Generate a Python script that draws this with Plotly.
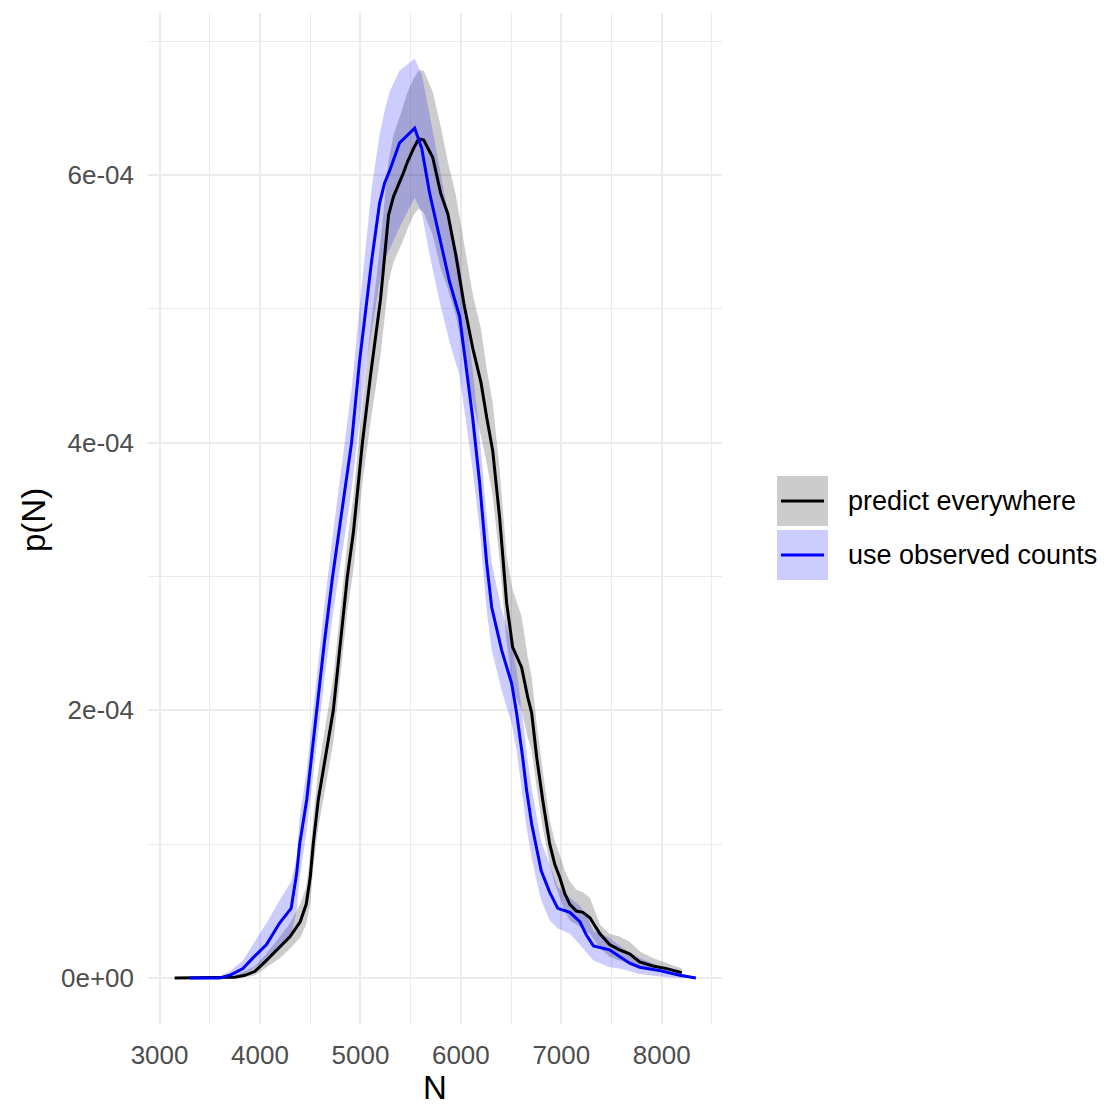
import plotly.graph_objects as go

# ---------------- data (density in units of 1e-4) ----------------
series_names = ["predict everywhere", "use observed counts"]

pred_N = [3150, 3300, 3600, 3750, 3850, 3950, 4050, 4200, 4300, 4400, 4460, 4500, 4530, 4580,
          4650, 4730, 4800, 4870, 4930, 5020, 5100, 5200, 5280, 5330, 5420, 5470, 5530, 5580,
          5630, 5720, 5800, 5870, 5950, 6030, 6120, 6200, 6257, 6317, 6386, 6456, 6516, 6605,
          6665, 6705, 6755, 6815, 6885, 6935, 6985, 7035, 7085, 7150, 7215, 7285, 7385, 7480,
          7580, 7680, 7780, 7910, 8050, 8200]
pred_mid = [0, 0, 0, 0.005, 0.02, 0.05, 0.12, 0.23, 0.31, 0.42, 0.55, 0.75, 1.0, 1.33,
            1.65, 2.0, 2.5, 3.0, 3.33, 4.0, 4.5, 5.07, 5.7, 5.84, 6.0, 6.1, 6.2, 6.27,
            6.26, 6.13, 5.86, 5.71, 5.4, 5.04, 4.7, 4.45, 4.19, 3.94, 3.44, 2.8, 2.47, 2.32,
            2.1, 1.98, 1.65, 1.33, 1.0, 0.85, 0.75, 0.63, 0.55, 0.50, 0.49, 0.45, 0.33, 0.25,
            0.21, 0.18, 0.12, 0.09, 0.07, 0.04]
pred_lo = [0, 0, 0, 0, 0.005, 0.02, 0.07, 0.15, 0.22, 0.30, 0.40, 0.55, 0.82, 1.12,
           1.42, 1.76, 2.25, 2.74, 3.05, 3.7, 4.15, 4.65, 5.2, 5.35, 5.5, 5.6, 5.7, 5.75,
           5.72, 5.55, 5.3, 5.15, 4.95, 4.65, 4.3, 4.05, 3.85, 3.6, 3.12, 2.5, 2.15, 2.0,
           1.8, 1.7, 1.42, 1.12, 0.85, 0.70, 0.6, 0.5, 0.43, 0.4, 0.37, 0.33, 0.22, 0.16,
           0.13, 0.11, 0.07, 0.05, 0.04, 0.02]
pred_hi = [0, 0, 0.005, 0.02, 0.05, 0.09, 0.17, 0.31, 0.41, 0.55, 0.68, 0.92, 1.2, 1.55,
           1.88, 2.25, 2.75, 3.26, 3.6, 4.3, 4.85, 5.5, 6.1, 6.3, 6.5, 6.62, 6.72, 6.78,
           6.78, 6.62, 6.36, 6.1, 5.85, 5.5, 5.1, 4.85, 4.55, 4.3, 3.8, 3.15, 2.9, 2.7,
           2.4, 2.25, 1.9, 1.55, 1.18, 1.02, 0.92, 0.8, 0.72, 0.66, 0.64, 0.6, 0.40, 0.33,
           0.31, 0.27, 0.2, 0.15, 0.11, 0.07]

obs_N = [3300, 3600, 3700, 3830, 3930, 4065, 4195, 4310, 4365, 4395, 4465, 4564, 4640, 4723,
         4820, 4912, 4990, 5062, 5112, 5191, 5241, 5290, 5390, 5540, 5610, 5690, 5789, 5888,
         5988, 6117, 6187, 6257, 6307, 6406, 6506, 6555, 6615, 6655, 6705, 6755, 6800, 6885,
         6965, 7085, 7185, 7250, 7320, 7480, 7580, 7680, 7780, 7980, 8180, 8340]
obs_mid = [0, 0, 0.02, 0.07, 0.15, 0.25, 0.41, 0.52, 0.78, 1.0, 1.33, 2.0, 2.5, 3.0,
           3.5, 4.0, 4.6, 5.07, 5.36, 5.79, 5.94, 6.03, 6.24, 6.35, 6.2, 5.86, 5.54, 5.2,
           4.94, 4.19, 3.70, 3.1, 2.77, 2.45, 2.2, 1.98, 1.65, 1.4, 1.15, 0.96, 0.80, 0.64,
           0.52, 0.49, 0.42, 0.32, 0.24, 0.21, 0.16, 0.11, 0.08, 0.055, 0.02, 0.0]
obs_lo = [0, 0, 0, 0.02, 0.07, 0.13, 0.25, 0.32, 0.5, 0.75, 1.1, 1.75, 2.22, 2.7,
          3.18, 3.65, 4.15, 4.6, 4.85, 5.2, 5.36, 5.45, 5.61, 5.83, 5.72, 5.4, 5.05, 4.75,
          4.5, 3.8, 3.35, 2.75, 2.45, 2.15, 1.9, 1.7, 1.35, 1.12, 0.9, 0.72, 0.58, 0.43,
          0.37, 0.33, 0.25, 0.19, 0.13, 0.08, 0.07, 0.05, 0.03, 0.01, 0.0, 0.0]
obs_hi = [0, 0.01, 0.05, 0.13, 0.25, 0.41, 0.58, 0.72, 0.9, 1.2, 1.55, 2.25, 2.78, 3.3,
          3.85, 4.4, 5.0, 5.55, 5.9, 6.3, 6.48, 6.62, 6.78, 6.87, 6.75, 6.45, 6.05, 5.65,
          5.35, 4.55, 4.05, 3.45, 3.1, 2.75, 2.5, 2.3, 1.95, 1.68, 1.42, 1.2, 1.02, 0.85,
          0.68, 0.6, 0.54, 0.47, 0.35, 0.3, 0.24, 0.19, 0.15, 0.09, 0.04, 0.005]

x_ticks = [3000, 4000, 5000, 6000, 7000, 8000]
x_tick_labels = ["3000", "4000", "5000", "6000", "7000", "8000"]
x_minor = [3500, 4500, 5500, 6500, 7500, 8500]
y_ticks = [0, 2e-4, 4e-4, 6e-4]
y_tick_labels = ["0e+00", "2e-04", "4e-04", "6e-04"]
y_minor = [1e-4, 3e-4, 5e-4, 7e-4]

SCALE = 1e-4
line_colors = ["#000000", "#0000FF"]
fill_colors = ["rgba(0,0,0,0.2)", "rgba(0,0,255,0.2)"]
FONT = "Liberation Sans, Arial, Helvetica, sans-serif"

groups = [
    (pred_N, pred_mid, pred_lo, pred_hi),
    (obs_N, obs_mid, obs_lo, obs_hi),
]

fig = go.Figure()
# ribbons
for (xs, mid, lo, hi), fc in zip(groups, fill_colors):
    fig.add_trace(go.Scatter(
        x=list(xs) + list(xs)[::-1],
        y=[v * SCALE for v in hi] + [v * SCALE for v in lo][::-1],
        fill="toself", fillcolor=fc, mode="lines", line=dict(width=0),
        hoverinfo="skip", showlegend=False))
# lines
for (xs, mid, lo, hi), lc, nm in zip(groups, line_colors, series_names):
    fig.add_trace(go.Scatter(
        x=xs, y=[v * SCALE for v in mid], mode="lines",
        line=dict(color=lc, width=3), name=nm, showlegend=False))

L, R, T, B = 148, 382, 13, 83
W, H = 1104, 1107
pw, ph = W - L - R, H - T - B

def px2paper_x(px):
    return (px - L) / pw

def py2paper_y(py):
    return (H - B - py) / ph

# manual ggplot-style legend
key_rows = [(476, 526), (530, 580)]
for (y0, y1), lc, fc, nm in zip(key_rows, line_colors, fill_colors, series_names):
    fig.add_shape(type="rect", xref="paper", yref="paper",
                  x0=px2paper_x(777), x1=px2paper_x(828),
                  y0=py2paper_y(y1), y1=py2paper_y(y0),
                  fillcolor=fc, line=dict(width=0), layer="above")
    yc = (y0 + y1) / 2
    fig.add_shape(type="line", xref="paper", yref="paper",
                  x0=px2paper_x(781), x1=px2paper_x(824),
                  y0=py2paper_y(yc), y1=py2paper_y(yc),
                  line=dict(color=lc, width=3), layer="above")
    fig.add_annotation(text=nm, xref="paper", yref="paper",
                       x=px2paper_x(846), y=py2paper_y(yc),
                       xanchor="left", yanchor="middle", showarrow=False,
                       font=dict(family=FONT, size=27, color="#000000"))

# axis titles
fig.add_annotation(text="N", xref="paper", yref="paper",
                   x=0.5, y=py2paper_y(1107), xanchor="center", yanchor="bottom",
                   showarrow=False, borderpad=0,
                   font=dict(family=FONT, size=33, color="#000000"))
fig.add_annotation(text="p(N)", xref="paper", yref="paper",
                   x=px2paper_x(33), y=py2paper_y(520), xanchor="center", yanchor="middle",
                   textangle=-90, showarrow=False,
                   font=dict(family=FONT, size=33, color="#000000"))

fig.update_layout(
    width=W, height=H,
    margin=dict(l=L, r=R, t=T, b=B, pad=0),
    plot_bgcolor="white", paper_bgcolor="white",
    showlegend=False,
    font=dict(family=FONT),
)
fig.update_xaxes(
    range=[2885, 8600], tickvals=x_ticks, ticktext=x_tick_labels,
    showgrid=True, gridcolor="#EBEBEB", gridwidth=2.2, zeroline=False, showline=False,
    ticks="", ticklabelstandoff=13,
    tickfont=dict(family=FONT, size=26, color="#4D4D4D"),
    minor=dict(tickvals=x_minor, showgrid=True, gridcolor="#EBEBEB", gridwidth=1.4),
)
fig.update_yaxes(
    range=[-0.344e-4, 7.21e-4], tickvals=y_ticks, ticktext=y_tick_labels,
    showgrid=True, gridcolor="#EBEBEB", gridwidth=2.2, zeroline=False, showline=False,
    ticks="", ticklabelstandoff=13,
    tickfont=dict(family=FONT, size=26, color="#4D4D4D"),
    minor=dict(tickvals=y_minor, showgrid=True, gridcolor="#EBEBEB", gridwidth=1.4),
)

fig.write_html("out.html", config={"displayModeBar": False},
               post_script="document.body.style.margin='0';document.body.style.overflow='hidden';")
